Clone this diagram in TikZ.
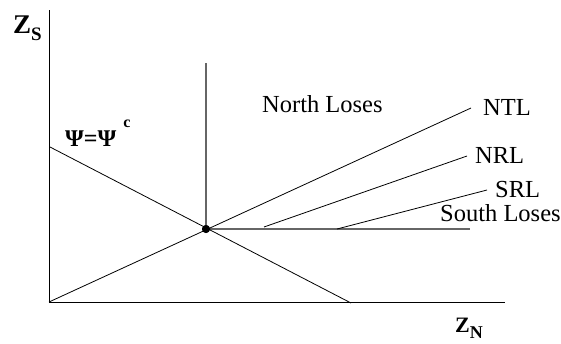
\documentclass[tikz,border=0pt]{standalone}
\usepackage{fontspec}
\setmainfont{Liberation Serif}
\begin{document}
\begin{tikzpicture}[x=1pt,y=-1pt,
  thinline/.style={draw=black,line width=0.8pt},
  greyline/.style={draw=black!60,line width=1.2pt},
  lbl/.style={inner sep=0pt,anchor=base west,font=\fontsize{24.5}{24.5}\selectfont},
]
\useasboundingbox (0,0) rectangle (561,343);
% points
\coordinate (ytop) at (49,10);
\coordinate (origin) at (49,302);
\coordinate (xend) at (505,302);
\node[circle,fill=black,inner sep=0pt,minimum size=8pt] (eq) at (206,229) {};
\coordinate (vtop) at (206,63);
\coordinate (hend) at (470,229);
\coordinate (psiA) at (50,147);
\coordinate (psiB) at (351,303);
\coordinate (ntlEnd) at (471,108);
\coordinate (nrlA) at (264,227);
\coordinate (nrlB) at (467,156);
\coordinate (srlA) at (337,229);
\coordinate (srlB) at (487,190);
% axes
\draw[thinline] (ytop) -- (origin) -- (xend);
% lines
\draw[greyline] (eq.center) -- (vtop);
\draw[greyline] (eq.center) -- (hend);
\draw[thinline] (psiA) -- (psiB);
\draw[thinline] (origin) -- (ntlEnd);
\draw[thinline] (nrlA) -- (nrlB);
\draw[thinline] (srlA) -- (srlB);
\node[circle,fill=black,inner sep=0pt,minimum size=8pt] at (eq) {};
% labels
\node[inner sep=0pt,anchor=base west] (zs) at (13,33)
  {\fontsize{27}{27}\selectfont\bfseries Z\raisebox{-7pt}{\fontsize{19}{19}\selectfont S}};
\node[inner sep=0pt,anchor=base west] (zn) at (455,332)
  {\fontsize{22}{22}\selectfont\bfseries Z\raisebox{-6pt}{\fontsize{18}{18}\selectfont N}};
\node[inner sep=0pt,anchor=base west] (psi) at (65,146)
  {\fontsize{24}{24}\selectfont\bfseries Ψ=Ψ\hspace{7pt}\raisebox{19pt}{\fontsize{16}{16}\selectfont c}};
\node[lbl] (nl) at (262,112) {North Loses};
\node[lbl] (ntl) at (483,115) {NTL};
\node[lbl] (nrl) at (475,163) {NRL};
\node[lbl] (srl) at (495,197) {SRL};
\node[lbl] (sl) at (440,221) {South Loses};
\end{tikzpicture}
\end{document}
